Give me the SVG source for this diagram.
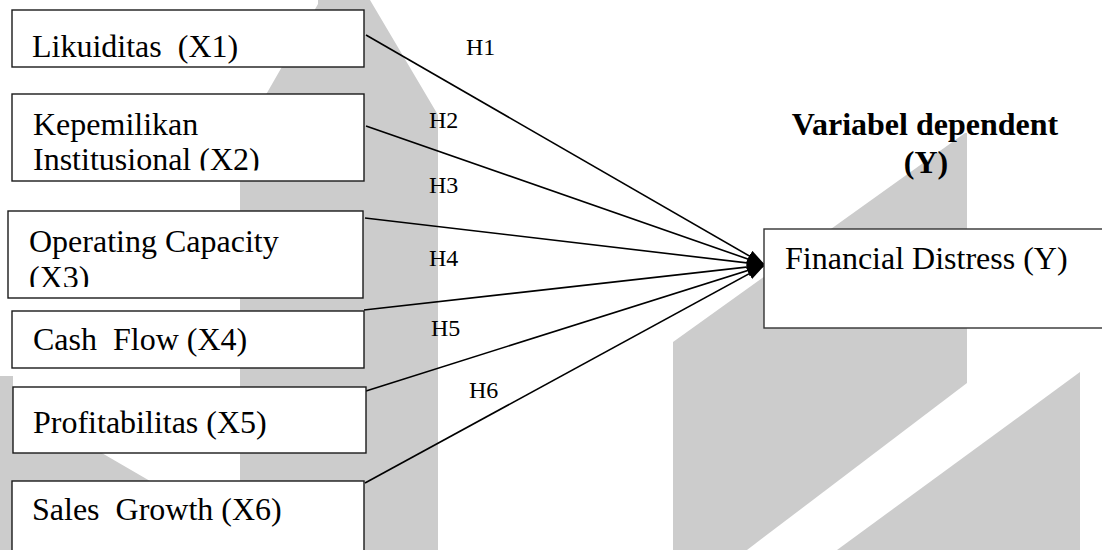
<svg xmlns="http://www.w3.org/2000/svg" width="1102" height="550" viewBox="0 0 1102 550">
<style>
.box{fill:#fff;stroke:#1a1a1a;stroke-width:1.4}
.t{font-family:"Liberation Serif","Times New Roman",serif;font-size:32px;fill:#000}
.h{font-family:"Liberation Serif","Times New Roman",serif;font-size:24px;fill:#000}
.b{font-family:"Liberation Serif","Times New Roman",serif;font-size:32px;font-weight:bold;fill:#000}
.wm{fill:#cccccc}
.edge{stroke:#000;stroke-width:1.6;fill:none;marker-end:url(#arr)}
</style>
<defs>
<marker id="arr" markerUnits="userSpaceOnUse" markerWidth="18" markerHeight="12" refX="18" refY="6" orient="auto">
<path d="M0,0 L18,6 L0,12 z" fill="#000"/>
</marker>
<clipPath id="c2"><rect x="12" y="94" width="352" height="76.5"/></clipPath>
<clipPath id="c3"><rect x="8" y="211" width="355" height="76"/></clipPath>
</defs>
<rect width="1102" height="550" fill="#fff"/>
<g id="watermark">
<polygon class="wm" points="318,0 370,0 438,115 438,550 240,550 240,140 318,4"/>
<polygon class="wm" points="0,376 13,376 13,445 88,445 150,481 150,550 0,550"/>
<polygon class="wm" points="965,133 967,133 967,383 747,550 673,550 673,342"/>
<polygon class="wm" points="1080,372 1080,550 837,550"/>
</g>
<g id="connectors">
<line class="edge" x1="366" y1="35" x2="765" y2="265"/>
<line class="edge" x1="366" y1="126" x2="765" y2="265"/>
<line class="edge" x1="365" y1="218" x2="765" y2="265"/>
<line class="edge" x1="364" y1="310" x2="765" y2="265"/>
<line class="edge" x1="366" y1="391" x2="765" y2="265"/>
<line class="edge" x1="365" y1="483" x2="765" y2="265"/>
</g>
<g id="labels">
<text class="h" x="466" y="55">H1</text>
<text class="h" x="429" y="128">H2</text>
<text class="h" x="429" y="193">H3</text>
<text class="h" x="429" y="266">H4</text>
<text class="h" x="431" y="336">H5</text>
<text class="h" x="469" y="398">H6</text>
</g>
<g id="x1">
<rect class="box" x="12" y="10" width="352" height="57"/>
<text class="t" x="32" y="57" xml:space="preserve">Likuiditas  (X1)</text>
</g>
<g id="x2">
<rect class="box" x="12" y="94" width="352" height="87"/>
<g clip-path="url(#c2)">
<text class="t" x="33" y="135">Kepemilikan</text>
<text class="t" x="33" y="170">Institusional (X2)</text>
</g>
</g>
<g id="x3">
<rect class="box" x="8" y="211" width="355" height="87"/>
<g clip-path="url(#c3)">
<text class="t" x="29" y="252">Operating Capacity</text>
<text class="t" x="29" y="288">(X3)</text>
</g>
</g>
<g id="x4">
<rect class="box" x="12" y="311" width="352" height="57"/>
<text class="t" x="33" y="350" xml:space="preserve">Cash  Flow (X4)</text>
</g>
<g id="x5">
<rect class="box" x="13" y="387" width="353" height="66"/>
<text class="t" x="33" y="433">Profitabilitas (X5)</text>
</g>
<g id="x6">
<rect class="box" x="12" y="481" width="352" height="90"/>
<text class="t" x="32" y="520" xml:space="preserve">Sales  Growth (X6)</text>
</g>
<g id="y">
<rect class="box" x="764" y="229" width="360" height="99" style="stroke:#333"/>
<text class="t" x="785" y="269">Financial Distress (Y)</text>
</g>
<g id="ytitle">
<text class="b" x="925" y="135" text-anchor="middle">Variabel dependent</text>
<text class="b" x="926" y="173" text-anchor="middle">(Y)</text>
</g>
</svg>
